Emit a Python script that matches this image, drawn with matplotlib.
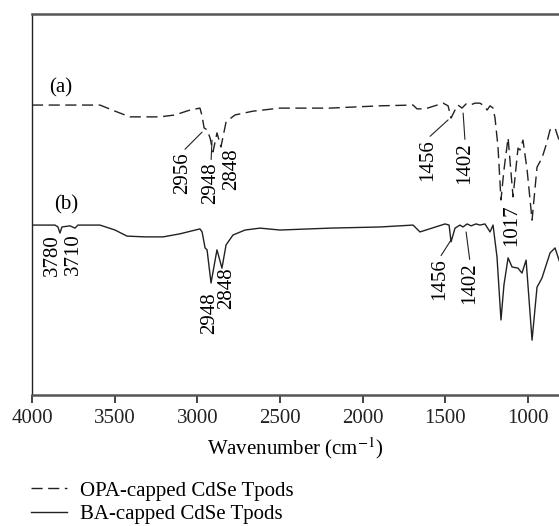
import matplotlib
matplotlib.use("Agg")
import matplotlib.pyplot as plt

plt.rcParams['font.family'] = ['Liberation Serif', 'DejaVu Serif']
plt.rcParams['mathtext.fontset'] = 'stix'

# FTIR spectra (wavenumber in cm^-1, transmittance in arbitrary units)
wn_opa = [4000, 3589, 3498, 3407, 3226, 3135, 3044, 2984, 2971, 2959, 2941, 2923,
          2905, 2881, 2857, 2826, 2772, 2663, 2500, 2197, 1895, 1695, 1671, 1622,
          1513, 1483, 1465, 1441, 1423, 1399, 1374, 1350, 1320, 1290, 1266, 1247,
          1229, 1211, 1199, 1181, 1163, 1145, 1120, 1090, 1060, 1048, 1030, 1005,
          975, 945, 915, 890, 866, 836, 812, 775]
tr_opa = [76.1, 76.1, 74.5, 73.0, 73.0, 73.5, 74.8, 75.3, 73.2, 70.1, 69.6, 67.5,
          63.8, 68.8, 65.1, 71.7, 73.5, 74.5, 75.3, 75.3, 75.9, 76.1, 75.1, 75.1,
          76.6, 75.9, 72.7, 74.8, 76.1, 75.3, 76.4, 76.1, 76.6, 76.6, 75.9, 74.8,
          75.9, 75.3, 72.7, 65.1, 51.2, 59.1, 67.5, 52.0, 64.8, 64.3, 66.9, 59.1,
          45.9, 59.8, 62.2, 65.6, 69.6, 70.1, 66.9, 61.7]

wn_ba = [4000, 3861, 3843, 3831, 3819, 3770, 3740, 3722, 3589, 3498, 3425, 3316,
         3207, 3105, 2984, 2971, 2953, 2941, 2917, 2881, 2851, 2826, 2784, 2711,
         2621, 2500, 2197, 1895, 1695, 1653, 1501, 1477, 1465, 1441, 1411, 1393,
         1368, 1344, 1314, 1290, 1260, 1229, 1211, 1187, 1163, 1145, 1120, 1096,
         1060, 1036, 1011, 975, 945, 915, 866, 836, 812, 775]
tr_ba = [44.6, 44.6, 44.1, 42.5, 44.1, 44.4, 43.8, 44.6, 44.6, 43.3, 41.7, 41.5,
         41.5, 42.3, 43.6, 42.8, 38.6, 38.1, 29.4, 38.1, 33.3, 39.4, 42.0, 43.3,
         43.8, 43.3, 43.8, 44.1, 44.6, 42.8, 44.9, 44.6, 40.2, 43.8, 44.6, 44.1,
         44.9, 44.4, 44.9, 44.6, 44.9, 42.8, 44.6, 36.2, 19.7, 28.9, 36.0, 33.6,
         33.3, 32.0, 35.4, 14.4, 28.3, 30.7, 37.3, 38.6, 35.4, 31.5]

# peak labels: text, label centre (wn, tr), leader end (wn, tr) or None
peak_labels = [
    ("2956", 3086, 58.3, (2971, 69.0)),
    ("2948", 2917, 55.6, (2911, 66.9)),
    ("2848", 2790, 59.3, None),
    ("1456", 1604, 61.7, (1483, 72.2)),
    ("1402", 1380, 60.9, (1392, 74.0)),
    ("1017", 1096, 44.6, None),
    ("3780", 3879, 36.7, None),
    ("3710", 3752, 37.0, None),
    ("2948", 2923, 21.5, None),
    ("2848", 2820, 28.1, None),
    ("1456", 1532, 30.4, (1465, 40.7)),
    ("1402", 1350, 29.4, (1374, 42.8)),
]
xticks = [4000, 3500, 3000, 2500, 2000, 1500, 1000]

fig = plt.figure(figsize=(5.59, 5.26), dpi=100)
ax = fig.add_axes([32 / 559, 1 - 395 / 526, 1 - 32 / 559, 381 / 526])

opa, = ax.plot(wn_opa, tr_opa, color='#222222', lw=1.0, ls=(0, (8, 4)),
               label='OPA-capped CdSe Tpods')
ba, = ax.plot(wn_ba, tr_ba, color='#222222', lw=1.0, label='BA-capped CdSe Tpods')

ax.set_xlim(4000, 812)
ax.set_ylim(0, 100)
ax.set_xticks(xticks)
ax.set_yticks([])
ax.tick_params(axis='x', direction='out', length=6, width=1.2, labelsize=15,
               colors='#222222', pad=4)
ax.spines['right'].set_visible(False)
for s in ['top', 'bottom']:
    ax.spines[s].set_color('#555555')
    ax.spines[s].set_linewidth(1.8)
ax.spines['left'].set_color('#222222')
ax.spines['left'].set_linewidth(1.0)
ax.set_xlabel('Wavenumber (cm$^{-1}$)', fontsize=15, labelpad=5)

ax.text(3825, 80.6, '(a)', fontsize=15, ha='center', va='center')
ax.text(3794, 49.9, '(b)', fontsize=15, ha='center', va='center')

for txt, wx, ty, lead in peak_labels:
    ax.text(wx, ty, txt, rotation=90, fontsize=15, ha='center', va='center')
    if lead is not None:
        # leader starts just above the top of the rotated label
        ax.annotate('', xy=lead, xytext=(wx + (lead[0] - wx) * 0.1, ty + 6.2),
                    arrowprops=dict(arrowstyle='-', lw=0.8, color='#222222',
                                    shrinkA=0, shrinkB=0))

fig.legend(handles=[opa, ba], loc='upper left',
           bbox_to_anchor=(31 / 559, 1 - 481 / 526), frameon=False,
           fontsize=15, handlelength=1.75, handletextpad=0.6,
           labelspacing=0.2, borderpad=0, borderaxespad=0)

fig.savefig('out.png', dpi=100)
